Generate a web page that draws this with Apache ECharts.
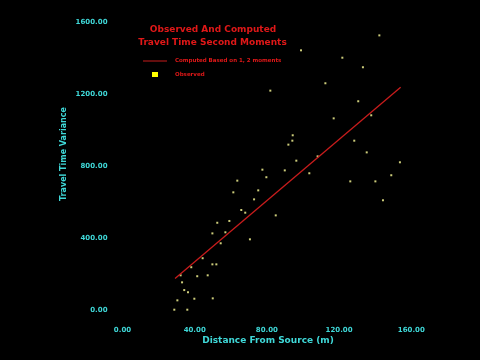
<!DOCTYPE html>
<html>
<head>
<meta charset="utf-8">
<script src="https://cdn.jsdelivr.net/npm/echarts@6/dist/echarts.min.js"></script>
<style>html,body{margin:0;padding:0;background:#000;}#c{width:480px;height:360px;}</style>
</head>
<body>
<div id="c"></div>
<script>
const xTicks = [0, 40, 80, 120, 160];
const yTicks = [0, 400, 800, 1200, 1600];
const obsDistance = [142.3, 98.9, 121.8, 133.2, 112.4, 81.9, 130.6, 137.8, 117.0, 94.3, 94.1, 128.4, 91.9, 135.3, 108.1, 96.3, 153.7, 77.5, 89.9, 103.5, 148.9, 79.7, 63.6, 126.2, 140.1, 75.2, 61.4, 72.9, 144.3, 65.8, 68.0, 84.9, 59.2, 52.5, 57.0, 49.8, 70.6, 54.4, 44.4, 49.8, 52.0, 38.1, 32.2, 47.2, 41.4, 33.0, 34.2, 36.3, 50.0, 39.8, 30.4, 28.7, 35.9];
const obsVariance = [1524, 1441, 1400, 1347, 1258, 1217, 1158, 1080, 1063, 969, 939, 939, 917, 874, 852, 828, 819, 778, 774, 758, 747, 736, 717, 713, 713, 663, 652, 613, 608, 554, 539, 524, 493, 483, 430, 424, 391, 369, 286, 252, 252, 236, 191, 191, 186, 152, 109, 97, 63, 61, 52, 0, 0];
const compDistance = [29.1, 154.1];
const compVariance = [174, 1236];

const cyan = '#3fd8d8';
const red = '#e01818';
const chart = echarts.init(document.getElementById('c'));
chart.setOption({
  backgroundColor: '#000',
  animation: false,
  grid: {left: 122.5, right: 68.7, top: 21.7, bottom: 50.3},
  xAxis: {
    type: 'value', min: xTicks[0], max: xTicks[xTicks.length-1], interval: 40,
    axisLine: {show: false}, axisTick: {show: false}, splitLine: {show: false},
    axisLabel: {color: cyan, fontSize: 7, fontFamily: 'DejaVu Sans', fontWeight: 'bold', margin: 17, formatter: v => v.toFixed(2)}
  },
  yAxis: {
    type: 'value', min: yTicks[0], max: yTicks[yTicks.length-1], interval: 400,
    axisLine: {show: false}, axisTick: {show: false}, splitLine: {show: false},
    axisLabel: {color: cyan, fontSize: 7, fontFamily: 'DejaVu Sans', fontWeight: 'bold', margin: 15, formatter: v => v.toFixed(2)}
  },
  series: [
    {
      type: 'line', data: compDistance.map((x, i) => [x, compVariance[i]]),
      showSymbol: false, lineStyle: {color: '#c81c1c', width: 1.3}
    },
    {
      type: 'scatter', data: obsDistance.map((x, i) => [x, obsVariance[i]]),
      symbol: 'rect', symbolSize: [2, 2], itemStyle: {color: '#ffff99'}
    }
  ],
  graphic: [
    {type: 'text', style: {text: 'Observed And Computed', x: 213, y: 30, align: 'center', verticalAlign: 'middle', fill: red, font: 'bold 9px "DejaVu Sans"'}},
    {type: 'text', style: {text: 'Travel Time Second Moments', x: 212.5, y: 42.5, align: 'center', verticalAlign: 'middle', fill: red, font: 'bold 9px "DejaVu Sans"'}},
    {type: 'line', shape: {x1: 143, y1: 61, x2: 167, y2: 61}, style: {stroke: '#c81c1c', lineWidth: 1}},
    {type: 'text', style: {text: 'Computed Based on 1, 2 moments', x: 175, y: 61, align: 'left', verticalAlign: 'middle', fill: red, font: 'bold 5.5px "DejaVu Sans"'}},
    {type: 'rect', shape: {x: 152, y: 72, width: 6, height: 5}, style: {fill: '#ffff00'}},
    {type: 'text', style: {text: 'Observed', x: 175, y: 75, align: 'left', verticalAlign: 'middle', fill: red, font: 'bold 5.5px "DejaVu Sans"'}},
    {type: 'text', style: {text: 'Distance From Source (m)', x: 268, y: 341, align: 'center', verticalAlign: 'middle', fill: cyan, font: 'bold 9px "DejaVu Sans"'}},
    {type: 'text', rotation: Math.PI / 2, x: 63.5, y: 154, style: {text: 'Travel Time Variance', x: 0, y: 0, align: 'center', verticalAlign: 'middle', fill: cyan, font: 'bold 8px "DejaVu Sans"'}}
  ]
});
</script>
</body>
</html>
